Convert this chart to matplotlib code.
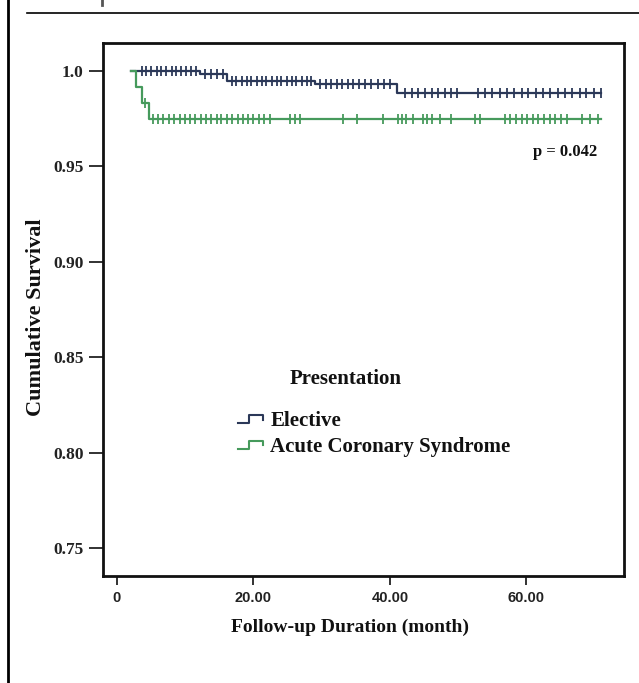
import numpy as np
import matplotlib
matplotlib.use("Agg")
import matplotlib.pyplot as plt
from matplotlib.lines import Line2D
from matplotlib.legend_handler import HandlerBase
from matplotlib import font_manager

# ---------------- data ----------------
group_names = ["Elective", "Acute Coronary Syndrome"]

elective_step_x = [2.0, 12.2, 16.1, 29.0, 41.0, 71.0]
elective_step_y = [1.0, 0.9985, 0.995, 0.993, 0.9886, 0.9886]
elective_censor = [3.6, 4.3, 5.0, 5.8, 6.5, 7.2, 8.0, 8.7, 9.4, 10.1, 10.9, 11.6,
                   12.9, 13.8, 14.6, 15.5,
                   16.8, 17.5, 18.3, 19.0, 19.7, 20.5, 21.2, 21.9, 22.7, 23.4, 24.1,
                   24.9, 25.6, 26.3, 27.1, 27.8, 28.5,
                   29.8, 30.6, 31.4, 32.2, 33.0, 33.8, 34.6, 35.4, 36.3, 37.2, 38.2,
                   39.1, 40.0,
                   42.2, 43.2, 44.1, 45.1, 46.1, 47.0, 48.0, 48.9, 49.9,
                   52.9, 54.0, 55.0, 56.1, 57.2, 58.2, 59.3, 60.3, 61.4, 62.5, 63.5,
                   64.6, 65.6, 66.7, 67.8, 68.8, 69.9, 71.0]

acs_step_x = [2.0, 2.8, 3.7, 4.7, 71.0]
acs_step_y = [1.0, 0.9917, 0.9833, 0.975, 0.975]
acs_censor = [4.1,
              5.3, 6.0, 6.8, 7.6, 8.4, 9.2, 9.9, 10.7, 11.5, 12.3, 13.0, 13.8, 14.6,
              15.3, 16.1, 16.9, 17.7, 18.4, 19.2, 20.0, 20.8, 21.6, 22.4,
              25.4, 26.1, 26.8, 33.1, 35.1, 39.0, 41.2, 41.7, 42.4, 43.4, 44.9,
              45.4, 46.1, 47.3, 49.0, 52.5, 53.2, 56.8, 57.6, 58.4, 59.3, 60.1,
              60.9, 61.7, 62.6, 63.4, 64.2, 65.0, 65.9, 68.1, 69.3, 70.5]

x_ticks = [0, 20, 40, 60]
x_tick_labels = ["0", "20.00", "40.00", "60.00"]
y_ticks = [0.75, 0.80, 0.85, 0.90, 0.95, 1.0]
y_tick_labels = ["0.75", "0.80", "0.85", "0.90", "0.95", "1.0"]

legend_title = "Presentation"
p_text = "p = 0.042"
x_label = "Follow-up Duration (month)"
y_label = "Cumulative Survival"

colors = ["#2b3858", "#469a5c"]

# ---------------- fonts ----------------
available = {f.name for f in font_manager.fontManager.ttflist}
serif = "Liberation Serif"
narrow = "Liberation Sans Narrow" if "Liberation Sans Narrow" in available else "Liberation Sans"

# ---------------- figure ----------------
fig = plt.figure(figsize=(6.39, 6.83), dpi=100)
ax = fig.add_axes([103 / 639, 1 - 576 / 683, (624 - 103) / 639, (576 - 43) / 683])


def surv_at(t, sx, sy):
    idx = np.searchsorted(sx, t, side="right") - 1
    idx = np.clip(idx, 0, len(sy) - 1)
    return np.asarray(sy)[idx]


handles = []
for sx, sy, cens, col, name in [(elective_step_x, elective_step_y, elective_censor, colors[0], group_names[0]),
                                (acs_step_x, acs_step_y, acs_censor, colors[1], group_names[1])]:
    ln, = ax.step(sx, sy, where="post", color=col, lw=1.6, label=name)
    handles.append(ln)
    ax.plot(cens, surv_at(np.array(cens), sx, sy), linestyle="none", marker="|",
            markersize=7, markeredgewidth=1.3, color=col)

ax.set_xlim(-2.05, 74.3)
ax.set_ylim(0.7353, 1.0147)

ax.set_xticks(x_ticks)
ax.set_xticklabels(x_tick_labels, fontfamily=narrow, fontweight="bold", fontsize=10.5)
ax.set_yticks(y_ticks)
ax.set_yticklabels(y_tick_labels, fontfamily=serif, fontweight="bold", fontsize=12.5)
ax.tick_params(axis="y", length=10, width=1.3, pad=4, colors="#222222")
ax.tick_params(axis="x", length=6.5, width=1.3, pad=4, colors="#222222")
for sp in ax.spines.values():
    sp.set_linewidth(2)
    sp.set_color("#111111")

ax.set_xlabel(x_label, fontfamily=serif, fontweight="bold", fontsize=14, color="#111111")
ax.xaxis.set_label_coords(0.474, -0.081)
ax.set_ylabel(y_label, fontfamily=serif, fontweight="bold", fontsize=16, color="#111111")
ax.yaxis.set_label_coords(-0.109, 0.485)

ax.text(0.887, 0.795, p_text, transform=ax.transAxes, ha="center", va="center",
        fontfamily=serif, fontweight="bold", fontsize=12, color="#111111")


class StepHandler(HandlerBase):
    def create_artists(self, legend, orig_handle, xdescent, ydescent, width, height, fontsize, trans):
        xs = np.array([0.0, 0.45, 0.45, 1.0, 1.0]) * width - xdescent
        ys = np.array([0.2, 0.2, 0.75, 0.75, 0.45]) * height - ydescent
        l = Line2D(xs, ys, color=orig_handle.get_color(), lw=1.5)
        l.set_transform(trans)
        return [l]


leg = ax.legend(handles=handles, labels=group_names, loc="upper left",
                bbox_to_anchor=(0.259, 0.309), frameon=False, borderpad=0,
                borderaxespad=0, handlelength=1.2, handletextpad=0.35,
                labelspacing=0.25,
                handler_map={h: StepHandler() for h in handles},
                prop={"family": serif, "weight": "bold", "size": 15})
for t in leg.get_texts():
    t.set_color("#111111")

ax.text(0.4655, 0.369, legend_title, transform=ax.transAxes, ha="center", va="center",
        fontfamily=serif, fontweight="bold", fontsize=15, color="#111111")

# page decorations from the source screenshot
fig.add_artist(Line2D([8 / 639, 8 / 639], [0, 1], transform=fig.transFigure, color="black", lw=2))
fig.add_artist(Line2D([27 / 639, 1], [1 - 13 / 683, 1 - 13 / 683], transform=fig.transFigure,
                      color="black", lw=1.2))
fig.add_artist(Line2D([102 / 639, 102 / 639], [1, 1 - 5 / 683], transform=fig.transFigure,
                      color="#555555", lw=2))

fig.savefig("out.png", dpi=100)
